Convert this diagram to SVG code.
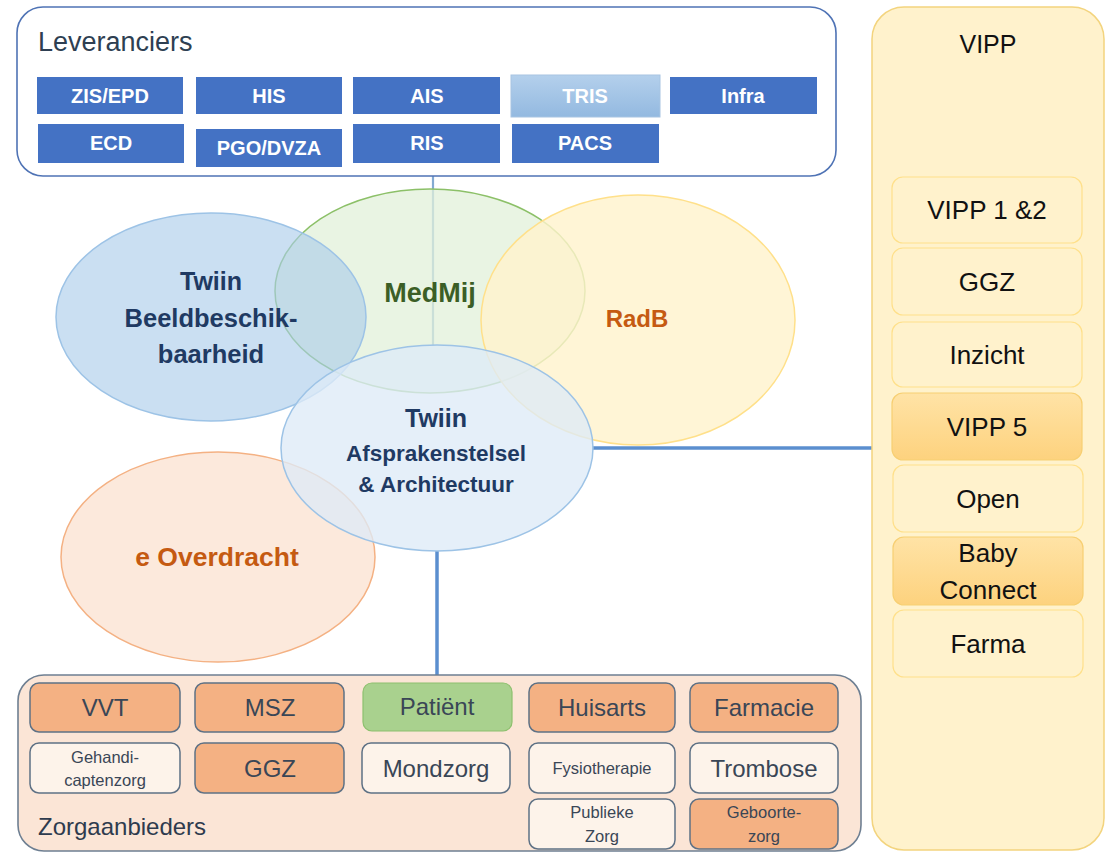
<svg xmlns="http://www.w3.org/2000/svg" width="1106" height="853" viewBox="0 0 1106 853">
<defs>
<linearGradient id="gold" x1="0" y1="0" x2="0" y2="1"><stop offset="0" stop-color="#FFE3A6"/><stop offset="1" stop-color="#FDD27E"/></linearGradient>
<linearGradient id="tris" x1="0" y1="0" x2="0" y2="1"><stop offset="0" stop-color="#B4D0EC"/><stop offset="1" stop-color="#93B9E0"/></linearGradient>
<style>
.t{font-family:"Liberation Sans",Arial,sans-serif}
.blue rect{fill:#4472C4}
.blue text{fill:#FFFFFF;font-weight:bold;font-size:20px;text-anchor:middle}
.zb{stroke:#5E7185;stroke-width:1.5}
.or{fill:#F4B183}
.wh{fill:#FDF3EA}
.zt{fill:#3A4656;font-size:24px;text-anchor:middle}
.zs{fill:#3A4656;font-size:16.5px;text-anchor:middle}
.vb{fill:#FFF2CC;stroke:#FFE08A;stroke-width:1.2}
.vh{fill:url(#gold);stroke:#F7CF72;stroke-width:1.2}
.vt{fill:#111111;font-size:26px;text-anchor:middle}
.et{font-weight:bold;text-anchor:middle}
</style>
</defs>
<rect x="0" y="0" width="1106" height="853" fill="#FFFFFF"/>

<g id="connectors" fill="none">
<line x1="433" y1="176" x2="433" y2="346" stroke="#84AAD2" stroke-width="2.2"/>
<line x1="437" y1="551" x2="437" y2="676" stroke="#5B8FCF" stroke-width="3.5"/>
<line x1="592" y1="448" x2="873" y2="448" stroke="#5B8FCF" stroke-width="3.5"/>
</g>

<g id="leveranciers" class="t">
<rect x="17" y="7" width="819" height="169" rx="26" fill="#FFFFFF" stroke="#4F73B5" stroke-width="1.6"/>
<text x="38" y="51" font-size="27" fill="#2E3F52">Leveranciers</text>
<g class="blue">
<g id="zis"><rect x="37" y="77" width="146" height="37"/><text x="110" y="103">ZIS/EPD</text></g>
<g id="his"><rect x="196" y="77" width="146" height="37"/><text x="269" y="103">HIS</text></g>
<g id="ais"><rect x="353" y="77" width="147" height="37"/><text x="427" y="103">AIS</text></g>
<g id="tris"><rect x="511" y="75" width="149" height="42" style="fill:url(#tris)" stroke="#A7C4E2" stroke-width="1"/><text x="585" y="103">TRIS</text></g>
<g id="infra"><rect x="670" y="77" width="147" height="37"/><text x="743" y="103">Infra</text></g>
<g id="ecd"><rect x="38" y="124" width="146" height="39"/><text x="111" y="150">ECD</text></g>
<g id="pgo"><rect x="196" y="129" width="146" height="38"/><text x="269" y="155">PGO/DVZA</text></g>
<g id="ris"><rect x="353" y="124" width="147" height="39"/><text x="427" y="150">RIS</text></g>
<g id="pacs"><rect x="512" y="124" width="147" height="39"/><text x="585" y="150">PACS</text></g>
</g>
</g>

<g id="zorgaanbieders" class="t">
<rect x="18" y="675" width="843" height="176" rx="26" fill="#FBE5D6" stroke="#6E7F92" stroke-width="1.6"/>
<text x="38" y="835" font-size="24" fill="#2E3B4E">Zorgaanbieders</text>
<g id="vvt"><rect x="30" y="683" width="150" height="49" rx="9" class="zb or"/><text x="105" y="716" class="zt">VVT</text></g>
<g id="msz"><rect x="195" y="683" width="149" height="49" rx="9" class="zb or"/><text x="270" y="716" class="zt">MSZ</text></g>
<g id="patient"><rect x="363" y="683" width="149" height="48" rx="9" fill="#A9D18E" stroke="#8DC06E" stroke-width="1.2"/><text x="437" y="715" class="zt">Patiënt</text></g>
<g id="huisarts"><rect x="529" y="683" width="146" height="49" rx="9" class="zb or"/><text x="602" y="716" class="zt">Huisarts</text></g>
<g id="farmacie"><rect x="690" y="683" width="148" height="49" rx="9" class="zb or"/><text x="764" y="716" class="zt">Farmacie</text></g>
<g id="gehandicapten"><rect x="30" y="743" width="150" height="50" rx="9" class="zb wh"/><text x="105" y="763" class="zs">Gehandi-</text><text x="105" y="786" class="zs">captenzorg</text></g>
<g id="ggz-z"><rect x="195" y="743" width="149" height="50" rx="9" class="zb or"/><text x="270" y="777" class="zt">GGZ</text></g>
<g id="mondzorg"><rect x="362" y="743" width="148" height="50" rx="9" class="zb wh"/><text x="436" y="777" class="zt">Mondzorg</text></g>
<g id="fysio"><rect x="529" y="743" width="146" height="50" rx="9" class="zb wh"/><text x="602" y="774" class="zs">Fysiotherapie</text></g>
<g id="trombose"><rect x="690" y="743" width="148" height="50" rx="9" class="zb wh"/><text x="764" y="777" class="zt">Trombose</text></g>
<g id="publieke"><rect x="529" y="799" width="146" height="50" rx="9" class="zb wh"/><text x="602" y="818" class="zs">Publieke</text><text x="602" y="842" class="zs">Zorg</text></g>
<g id="geboorte"><rect x="690" y="799" width="148" height="50" rx="9" class="zb or"/><text x="764" y="818" class="zs">Geboorte-</text><text x="764" y="842" class="zs">zorg</text></g>
</g>

<g id="vipp" class="t">
<rect x="872" y="7" width="232" height="843" rx="32" fill="#FFF2CC" stroke="#F3D47E" stroke-width="1.5"/>
<text x="988" y="53" font-size="25" fill="#111111" text-anchor="middle">VIPP</text>
<g id="vipp12"><rect x="892" y="177" width="190" height="66" rx="11" class="vb"/><text x="987" y="219" class="vt">VIPP 1 &amp;2</text></g>
<g id="ggz-v"><rect x="892" y="248" width="190" height="67" rx="11" class="vb"/><text x="987" y="291" class="vt">GGZ</text></g>
<g id="inzicht"><rect x="892" y="322" width="190" height="65" rx="11" class="vb"/><text x="987" y="364" class="vt">Inzicht</text></g>
<g id="vipp5"><rect x="892" y="393" width="190" height="67" rx="11" class="vh"/><text x="987" y="436" class="vt">VIPP 5</text></g>
<g id="open"><rect x="893" y="465" width="190" height="67" rx="11" class="vb"/><text x="988" y="508" class="vt">Open</text></g>
<g id="baby"><rect x="893" y="537" width="190" height="68" rx="11" class="vh"/><text x="988" y="562" class="vt">Baby</text><text x="988" y="599" class="vt">Connect</text></g>
<g id="farma"><rect x="893" y="610" width="190" height="67" rx="11" class="vb"/><text x="988" y="653" class="vt">Farma</text></g>
</g>

<g id="medmij" class="t">
<ellipse cx="430" cy="291" rx="155" ry="102" fill="#E2F0D9" fill-opacity="0.75" stroke="#8CC068" stroke-width="1.5"/>
<text x="430" y="302" font-size="27" class="et" fill="#3B5E26">MedMij</text>
</g>
<g id="beeld" class="t">
<ellipse cx="211" cy="317" rx="155" ry="104" fill="#A9CBEA" fill-opacity="0.62" stroke="#9DC3E6" stroke-width="1.5"/>
<text x="211" y="290" font-size="25" class="et" fill="#1F3A63">Twiin</text>
<text x="211" y="327" font-size="25.5" class="et" fill="#1F3A63">Beeldbeschik-</text>
<text x="211" y="363" font-size="25.5" class="et" fill="#1F3A63">baarheid</text>
</g>
<g id="radb" class="t">
<ellipse cx="638" cy="320" rx="157" ry="125" fill="#FFF2CC" fill-opacity="0.8" stroke="#FFE08A" stroke-width="1.5"/>
<text x="637" y="327" font-size="24" class="et" fill="#C55A11">RadB</text>
</g>
<g id="eoverdracht" class="t">
<ellipse cx="218" cy="557" rx="157" ry="105" fill="#FBE5D6" fill-opacity="0.85" stroke="#F4B183" stroke-width="1.5"/>
<text x="217" y="566" font-size="26.5" class="et" fill="#C55A11">e Overdracht</text>
</g>
<g id="afspraken" class="t">
<ellipse cx="437" cy="448" rx="156" ry="103" fill="#DEEBF7" fill-opacity="0.78" stroke="#9DC3E6" stroke-width="1.5"/>
<text x="436" y="427" font-size="25" class="et" fill="#1F3A63">Twiin</text>
<text x="436" y="461" font-size="22.5" class="et" fill="#1F3A63">Afsprakenstelsel</text>
<text x="436" y="492" font-size="22.5" class="et" fill="#1F3A63">&amp; Architectuur</text>
</g>
</svg>
